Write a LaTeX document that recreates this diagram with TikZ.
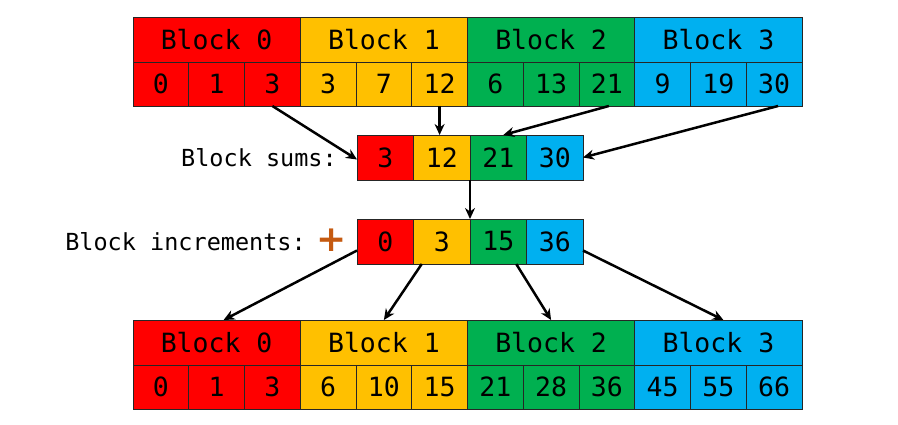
\documentclass[tikz,border=0pt]{standalone}
\usepackage{fontspec}
\setmonofont{DejaVu Sans Mono}
\newfontfamily\plusfont{DejaVu Sans}
\usetikzlibrary{arrows.meta}
\definecolor{bred}{HTML}{FF0000}
\definecolor{byellow}{HTML}{FFC000}
\definecolor{bgreen}{HTML}{00B050}
\definecolor{bblue}{HTML}{00B0F0}
\definecolor{plusorange}{HTML}{C55A11}
\tikzset{
  numcell/.style={draw=black!85, line width=0.9pt, inner sep=0pt, outer sep=0pt,
    minimum width=55.75pt, minimum height=44pt,
    font=\ttfamily\fontsize{26.5}{30}\selectfont},
  blockhead/.style={numcell, minimum width=167.25pt, minimum height=45pt},
  sumcell/.style={numcell, minimum width=56.5pt, minimum height=45pt},
  sidetext/.style={font=\ttfamily\fontsize{23.5}{27}\selectfont, anchor=east,
    inner sep=0pt},
  link/.style={line width=2.5pt, -{Stealth[length=11pt,width=10pt]}}
}
\begin{document}
\begin{tikzpicture}[x=1pt, y=-1pt]
  \useasboundingbox (0, 0) rectangle (898, 425);

  % input array
  \node[blockhead,fill=bred] (tb0) at (216.6, 39.5) {Block 0};
  \node[blockhead,fill=byellow] (tb1) at (383.9, 39.5) {Block 1};
  \node[blockhead,fill=bgreen] (tb2) at (551.1, 39.5) {Block 2};
  \node[blockhead,fill=bblue] (tb3) at (718.4, 39.5) {Block 3};
  \node[numcell,fill=bred] (t0) at (160.9, 84) {0};
  \node[numcell,fill=bred] (t1) at (216.6, 84) {1};
  \node[numcell,fill=bred] (t2) at (272.4, 84) {3};
  \node[numcell,fill=byellow] (t3) at (328.1, 84) {3};
  \node[numcell,fill=byellow] (t4) at (383.9, 84) {7};
  \node[numcell,fill=byellow] (t5) at (439.6, 84) {12};
  \node[numcell,fill=bgreen] (t6) at (495.4, 84) {6};
  \node[numcell,fill=bgreen] (t7) at (551.1, 84) {13};
  \node[numcell,fill=bgreen] (t8) at (606.9, 84) {21};
  \node[numcell,fill=bblue] (t9) at (662.6, 84) {9};
  \node[numcell,fill=bblue] (t10) at (718.4, 84) {19};
  \node[numcell,fill=bblue] (t11) at (774.1, 84) {30};

  % block sums
  \node[sidetext] (lsums) at (337, 157.5) {Block sums:};
  \node[sumcell,fill=bred] (s0) at (385.25, 157.5) {3};
  \node[sumcell,fill=byellow] (s1) at (441.75, 157.5) {12};
  \node[sumcell,fill=bgreen] (s2) at (498.25, 157.5) {21};
  \node[sumcell,fill=bblue] (s3) at (554.75, 157.5) {30};

  % block increments
  \node[sidetext] (lincr) at (306, 241.5) {Block increments:};
  \node[text=plusorange, inner sep=0pt,
    font=\plusfont\bfseries\fontsize{36}{40}\selectfont] (plus) at (332, 240.5) {+};
  \node[sumcell,fill=bred] (i0) at (385.25, 241.5) {0};
  \node[sumcell,fill=byellow] (i1) at (441.75, 241.5) {3};
  \node[sumcell,fill=bgreen] (i2) at (498.25, 241.5) {15};
  \node[sumcell,fill=bblue] (i3) at (554.75, 241.5) {36};

  % result array
  \node[blockhead,fill=bred] (bb0) at (216.6, 342.5) {Block 0};
  \node[blockhead,fill=byellow] (bb1) at (383.9, 342.5) {Block 1};
  \node[blockhead,fill=bgreen] (bb2) at (551.1, 342.5) {Block 2};
  \node[blockhead,fill=bblue] (bb3) at (718.4, 342.5) {Block 3};
  \node[numcell,fill=bred] (b0) at (160.9, 387) {0};
  \node[numcell,fill=bred] (b1) at (216.6, 387) {1};
  \node[numcell,fill=bred] (b2) at (272.4, 387) {3};
  \node[numcell,fill=byellow] (b3) at (328.1, 387) {6};
  \node[numcell,fill=byellow] (b4) at (383.9, 387) {10};
  \node[numcell,fill=byellow] (b5) at (439.6, 387) {15};
  \node[numcell,fill=bgreen] (b6) at (495.4, 387) {21};
  \node[numcell,fill=bgreen] (b7) at (551.1, 387) {28};
  \node[numcell,fill=bgreen] (b8) at (606.9, 387) {36};
  \node[numcell,fill=bblue] (b9) at (662.6, 387) {45};
  \node[numcell,fill=bblue] (b10) at (718.4, 387) {55};
  \node[numcell,fill=bblue] (b11) at (774.1, 387) {66};

  \draw[link] (t2.south) -- ([yshift=-2pt]s0.west);
  \draw[link] (t5.south) -- (t5.south |- s1.north);
  \draw[link] ([xshift=2pt]t8.south) -- ([xshift=5pt]s2.north);
  \draw[link] ([xshift=4pt]t11.south) -- (s3.east);
  \draw[link] (s1.south east) -- (i1.north east);
  \draw[link] ([yshift=-9pt]i0.west) -- ([xshift=7pt]bb0.north);
  \draw[link] ([xshift=-20pt]i1.south) -- (bb1.north);
  \draw[link] ([xshift=18pt]i2.south) -- (bb2.north);
  \draw[link] ([yshift=-9pt]i3.east) -- ([xshift=5pt]bb3.north);
\end{tikzpicture}
\end{document}
